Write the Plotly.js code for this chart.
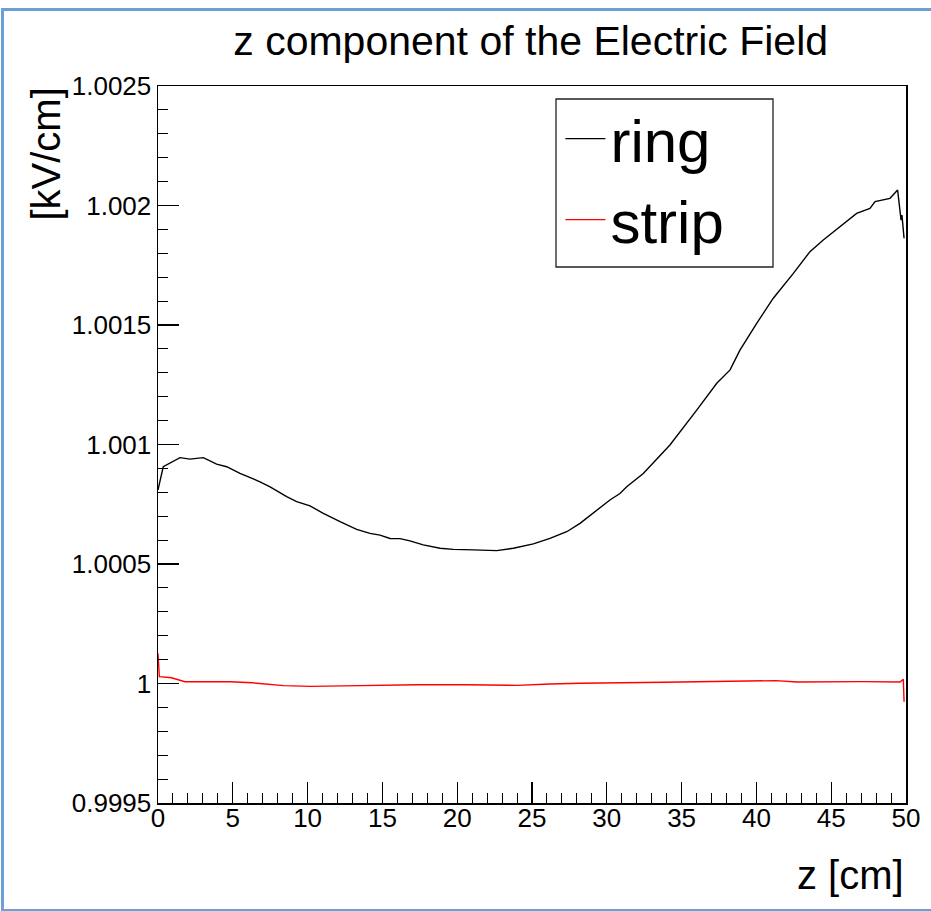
<!DOCTYPE html>
<html>
<head>
<meta charset="utf-8">
<script src="https://cdn.plot.ly/plotly-3.0.1.min.js"></script>
<style>
  html, body { margin: 0; padding: 0; background: #ffffff; }
  #wrap { position: relative; width: 931px; height: 911px; }
  #chart { position: absolute; left: 0; top: 0; width: 931px; height: 911px; }
  #frame { position: absolute; left: 1px; top: 8px; width: 927px; height: 898px;
           border: 3px solid #6b9fd6; border-right: none; pointer-events: none; }
</style>
</head>
<body>
<div id="wrap">
  <div id="chart"></div>
  <div id="frame"></div>
</div>
<script>
// ---- data ----
const ringZ = [0, 0.35, 1.47, 2.14, 3.03, 3.92, 4.59, 5.48, 6.82, 7.49, 8.6, 9.27, 10.16, 11.05, 12.17, 13.28, 14.17, 14.84, 15.51, 16.18, 16.84, 17.73, 18.85, 19.74, 21.08, 22.64, 23.75, 25.09, 26.2, 27.32, 28.21, 29.1, 30.21, 30.88, 31.33, 32.44, 34.22, 36.01, 37.35, 38.24, 38.9, 40.02, 41.13, 42.47, 43.58, 44.47, 45.81, 46.7, 47.59, 47.93, 48.93, 49.44, 49.67, 49.73, 49.87];
const ringE = [1.000810, 1.000907, 1.000945, 1.000939, 1.000945, 1.000918, 1.000907, 1.000879, 1.000844, 1.000823, 1.000782, 1.000761, 1.000743, 1.000712, 1.000677, 1.000645, 1.000628, 1.000621, 1.000607, 1.000606, 1.000597, 1.000580, 1.000566, 1.000561, 1.000559, 1.000556, 1.000566, 1.000584, 1.000607, 1.000635, 1.000670, 1.000712, 1.000768, 1.000795, 1.000823, 1.000879, 1.000998, 1.001144, 1.001256, 1.001312, 1.001395, 1.001507, 1.001612, 1.001716, 1.001807, 1.001856, 1.001925, 1.001967, 1.001988, 1.002016, 1.002030, 1.002065, 1.001939, 1.001960, 1.001863];

const stripZ = [0, 0.09, 0.9, 1.8, 4.8, 6.3, 8.4, 10.2, 12.4, 17.3, 20.6, 24.0, 26.2, 28.2, 33.8, 38.2, 41.3, 42.7, 47.1, 49.6, 49.82, 49.87];
const stripE = [1.000126, 1.0000285, 1.000024, 1.0000075, 1.0000075, 1.000003, 0.999991, 0.999988, 0.999990, 0.999995, 0.999995, 0.999992, 0.999998, 1.000001, 1.000005, 1.000009, 1.000012, 1.000006, 1.000008, 1.000006, 1.000018, 0.999924];

const seriesNames = ["ring", "strip"];
const yTickVals = [0.9995, 1.0, 1.0005, 1.001, 1.0015, 1.002, 1.0025];
const yTickText = ["0.9995", "1", "1.0005", "1.001", "1.0015", "1.002", "1.0025"];
const xTickVals = [0, 5, 10, 15, 20, 25, 30, 35, 40, 45, 50];
const xTickText = ["0", "5", "10", "15", "20", "25", "30", "35", "40", "45", "50"];

const titleText = "z component of the Electric Field";
const xTitle = "z [cm]";
const yTitle = "[kV/cm]";

// ---- chart ----
const FONT = "Liberation Sans, Arial, Helvetica, sans-serif";

const traces = [
  { x: ringZ, y: ringE, name: seriesNames[0], type: "scatter", mode: "lines",
    line: { color: "#000000", width: 1.4 } },
  { x: stripZ, y: stripE, name: seriesNames[1], type: "scatter", mode: "lines",
    line: { color: "#ff0000", width: 1.4 } }
];

const axisCommon = {
  showgrid: false, zeroline: false,
  showline: true, linecolor: "#000000", linewidth: 1.5, mirror: true,
  ticks: "inside", tickcolor: "#000000", tickwidth: 1.2, ticklen: 21,
  tickmode: "array",
  tickfont: { family: FONT, size: 26, color: "#000000" }
};

const layout = {
  width: 931, height: 911,
  margin: { l: 158, r: 25, t: 86, b: 108 },
  paper_bgcolor: "rgba(0,0,0,0)",
  plot_bgcolor: "#ffffff",
  font: { family: FONT, color: "#000000" },
  title: { text: titleText, font: { family: FONT, size: 41, color: "#000000" },
           x: 0.57, xanchor: "center", y: 0.955, yanchor: "middle" },
  showlegend: true,
  legend: {
    x: 0.538, xanchor: "left", y: 0.990, yanchor: "top",
    bgcolor: "rgba(0,0,0,0)", borderwidth: 0,
    font: { family: FONT, size: 60, color: "#000000" },
    itemwidth: 40, tracegroupgap: 0
  },
  xaxis: Object.assign({}, axisCommon, {
    range: [0, 50],
    tickvals: xTickVals, ticktext: xTickText,
    ticklabelstandoff: -9,
    minor: { ticks: "inside", ticklen: 10, tickcolor: "#000000", tickwidth: 1, dtick: 1, showgrid: false },
    title: { text: "" }
  }),
  yaxis: Object.assign({}, axisCommon, {
    range: [0.9995, 1.0025],
    tickvals: yTickVals, ticktext: yTickText,
    ticklabelstandoff: 0,
    minor: { ticks: "inside", ticklen: 10, tickcolor: "#000000", tickwidth: 1, dtick: 0.0001, tick0: 0.9995, showgrid: false },
    title: { text: "" }
  }),
  shapes: [
    { type: "rect", xref: "paper", yref: "paper",
      x0: (556 - 158) / 748, x1: (773 - 158) / 748,
      y0: (803 - 267) / 717, y1: (803 - 99) / 717,
      line: { color: "#222222", width: 1.3 }, fillcolor: "rgba(0,0,0,0)", layer: "above" }
  ],
  annotations: [
    { text: xTitle, xref: "paper", yref: "paper", x: 1.0, y: -0.1, xanchor: "right", yanchor: "middle",
      showarrow: false, font: { family: FONT, size: 40, color: "#000000" } },
    { text: yTitle, xref: "paper", yref: "paper", x: -0.151, y: 1.0, xanchor: "center", yanchor: "top",
      textangle: -90, showarrow: false, font: { family: FONT, size: 40, color: "#000000" } }
  ]
};

Plotly.newPlot("chart", traces, layout, { displayModeBar: false, staticPlot: true });
</script>
</body>
</html>
